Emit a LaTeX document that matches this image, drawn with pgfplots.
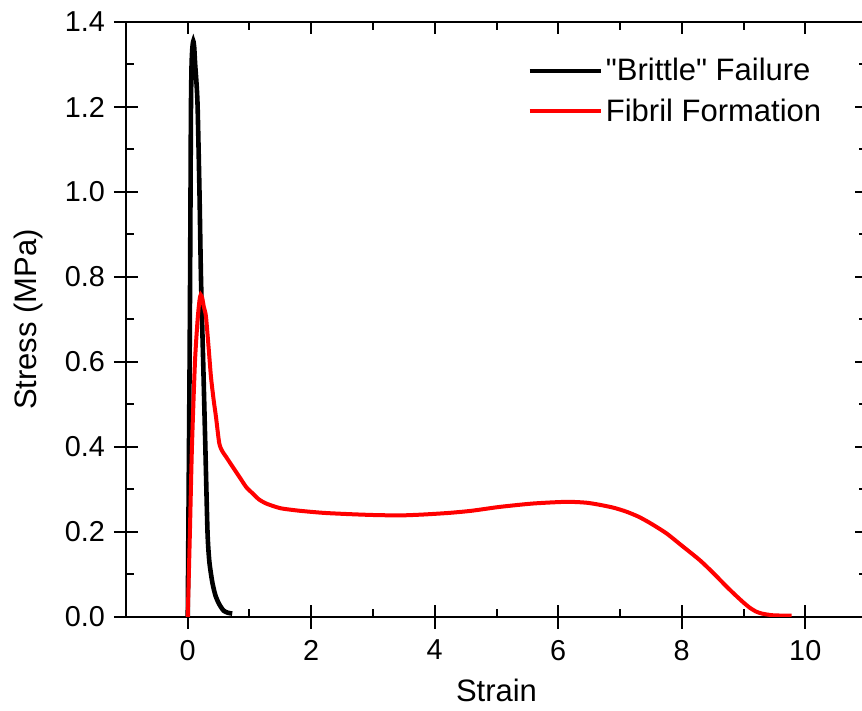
\documentclass[border=0pt]{standalone}
\usepackage{fontspec}
\setmainfont{Liberation Sans}
\usepackage{pgfplots}
\pgfplotsset{compat=1.18}
\begin{document}
\begin{tikzpicture}
\useasboundingbox (-63pt,-47pt) rectangle (368pt,308.5pt);
\clip (-63pt,-47pt) rectangle (368pt,308.5pt);
\pgfplotsset{
  common/.style={
    at={(0pt,0pt)}, anchor=south west,
    width=370.5pt, height=297.5pt, scale only axis,
    xmin=-1, xmax=11, ymin=0, ymax=1.4,
    xtick={0,2,4,6,8,10}, ytick={0,0.2,...,1.4},
    minor x tick num=1, minor y tick num=1,
    axis line style={line width=1pt},
    every tick/.style={black, line width=1pt},
    major tick length=6pt, minor tick length=4pt,
    /pgf/number format/assume math mode=true,
  }
}
\begin{axis}[common,
  tick align=inside,
  tick label style={font=\fontsize{14.4}{17}\selectfont},
  yticklabel style={/pgf/number format/fixed, /pgf/number format/fixed zerofill, /pgf/number format/precision=1, xshift=-7pt},
  xticklabel style={yshift=-8pt},
  label style={font=\fontsize{15.5}{18}\selectfont},
  xlabel={Strain}, ylabel={Stress (MPa)},
  xlabel style={yshift=-2.5pt},
  ylabel style={yshift=4pt},
  legend style={draw=none, fill=none, at={(0.541,0.945)}, anchor=north west,
    font=\fontsize{15.5}{18}\selectfont, inner sep=0pt, row sep=4.5pt,
    nodes={inner sep=1.5pt}},
  legend cell align=left,
  legend image code/.code={\draw[#1] (0pt,0pt) -- (35.5pt,0pt);},
]
\addplot[black, line width=2.3pt, smooth, tension=0.4] coordinates {
(0,0)(0.015,0.3)(0.03,0.6)(0.038,0.8)(0.045,1.0)(0.052,1.2)(0.062,1.3)(0.075,1.34)(0.09,1.355)
(0.105,1.34)(0.12,1.30)(0.14,1.26)(0.16,1.2)(0.19,1.0)(0.214,0.8)(0.25,0.6)(0.285,0.4)
(0.32,0.2)(0.35,0.13)(0.40,0.08)(0.45,0.05)(0.51,0.03)(0.58,0.015)(0.65,0.01)(0.72,0.008)
};
\addlegendentry{\textquotedbl Brittle\textquotedbl{} Failure}
\addplot[red, line width=2pt, smooth, tension=0.4] coordinates {
(0,0)(0.035,0.2)(0.068,0.4)(0.117,0.6)(0.16,0.7)(0.19,0.745)(0.21,0.758)(0.235,0.75)(0.26,0.73)
(0.295,0.707)(0.34,0.63)(0.376,0.565)(0.42,0.51)(0.457,0.471)(0.51,0.409)(0.56,0.39)(0.62,0.377)
(0.72,0.355)(0.835,0.33)(0.95,0.305)(1.05,0.291)(1.15,0.277)(1.27,0.267)(1.5,0.256)(1.81,0.250)
(2.2,0.245)(2.62,0.242)(3.0,0.240)(3.43,0.239)(3.8,0.241)(4.24,0.245)(4.6,0.250)(5.05,0.259)
(5.59,0.267)(6.13,0.271)(6.45,0.269)(6.67,0.264)(6.9,0.257)(7.1,0.248)(7.3,0.236)(7.5,0.220)
(7.75,0.197)(8.0,0.168)(8.29,0.134)(8.5,0.105)(8.73,0.071)(8.88,0.05)(9.0,0.034)(9.1,0.022)
(9.2,0.013)(9.3,0.008)(9.48,0.004)(9.78,0.003)
};
\addlegendentry{Fibril Formation}
\end{axis}
\begin{axis}[common,
  tick align=outside,
  xtick pos=bottom, ytick pos=left,
  minor x tick num=0, minor y tick num=0,
  xticklabels={}, yticklabels={},
  axis line style={draw=none},
]
\end{axis}
\end{tikzpicture}
\end{document}
